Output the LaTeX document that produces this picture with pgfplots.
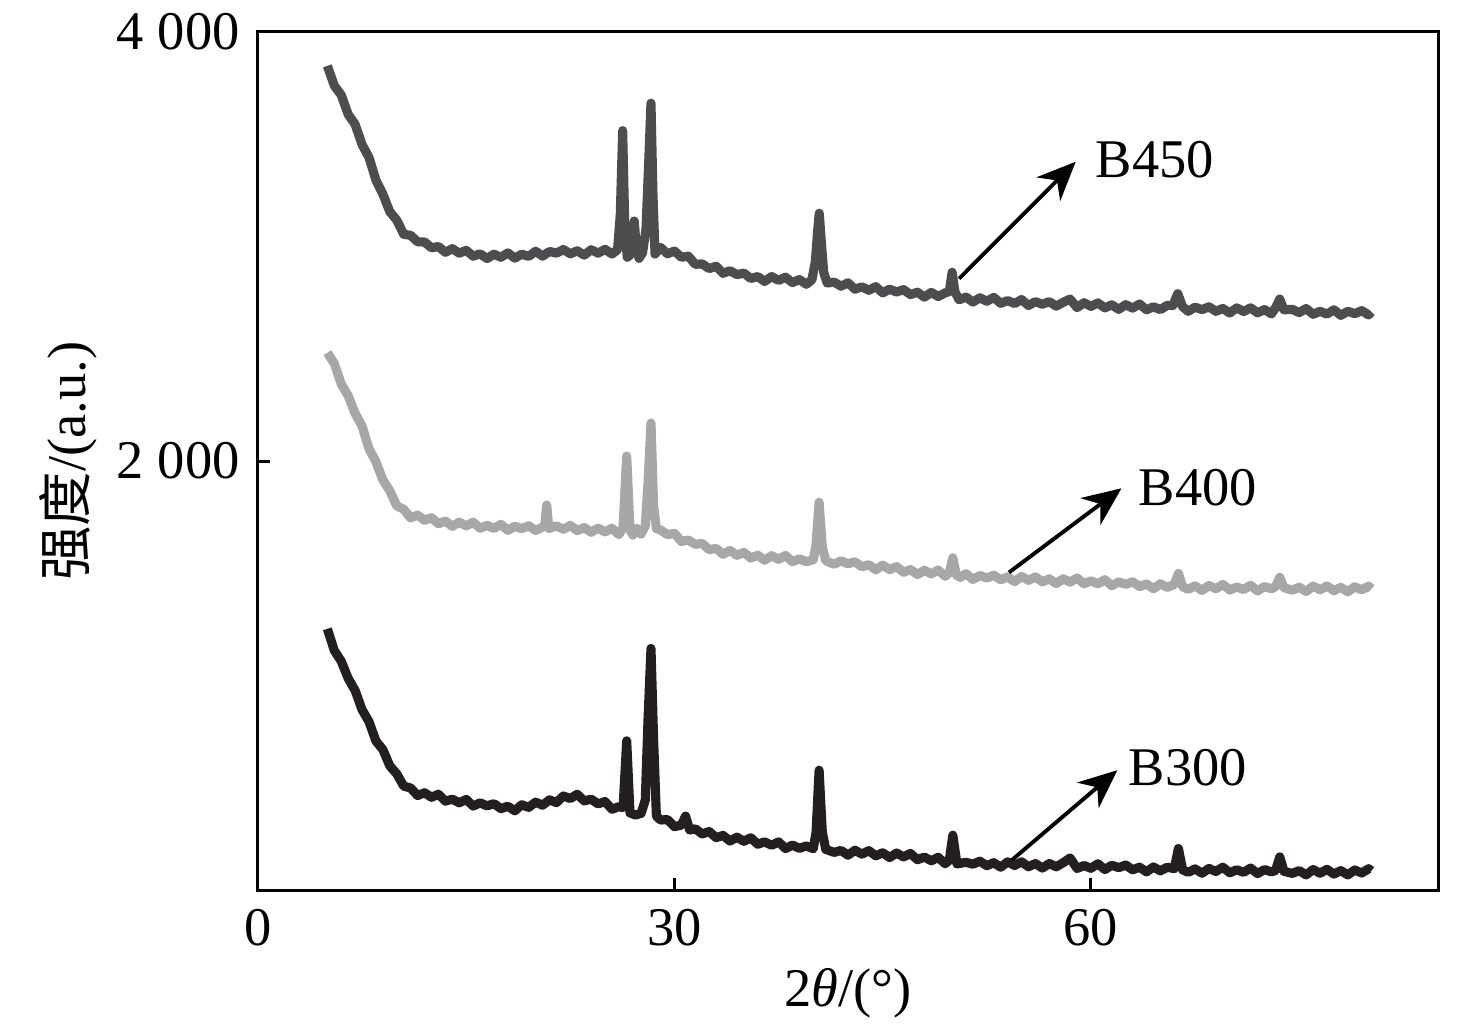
\documentclass[border=0pt]{standalone}
\usepackage{pgfplots}
\pgfplotsset{compat=1.18}
\usepackage{fontspec}
\setmainfont{Liberation Serif}
\newfontfamily\cjk{Noto Sans CJK SC}
\usetikzlibrary{arrows.meta}
\definecolor{cA}{HTML}{4D4D4F}
\definecolor{cB}{HTML}{A7A7A7}
\definecolor{cC}{HTML}{231F20}
\newcommand\fs{\fontsize{15.5}{18}\selectfont}
\tikzset{lab arrow/.style={-{Stealth[length=11pt,width=9.5pt,inset=3.5pt]}, line width=1.1pt, black}}
\begin{document}
\begin{tikzpicture}
\path[use as bounding box] (-73.4pt,-39.8pt) rectangle (346.6pt,253.3pt);
\begin{axis}[at={(0,0)}, anchor=south west, scale only axis,
  width=335.8pt, height=244.2pt,
  xmin=0, xmax=85, ymin=0, ymax=4000,
  xtick={0,30,60}, ytick={2000,4000},
  xtick pos=lower, ytick pos=left,
  tick align=inside, major tick length=3.5pt,
  axis line style={line width=0.85pt, black},
  every tick/.style={line width=0.85pt, black},
  tick label style={font=\fs},
  xticklabel style={yshift=-2pt},
  yticklabel style={xshift=-1.7pt},
  /pgf/number format/assume math mode=true,
  /pgf/number format/1000 sep={\hspace{0.25em}},
  xlabel={2\textit{θ}/(°)},
  ylabel={{\cjk 强度}/(a.u.)},
  label style={font=\fs},
  xlabel style={at={(axis description cs:0.5,-0.12)}, anchor=center},
  ylabel style={at={(axis description cs:-0.1608,0.5)}, anchor=center},
  every axis plot/.append style={line width=2.6pt, line join=round, no marks},
  clip=false,
]
% B450
\addplot[cA] coordinates {
(5.0,3842)(5.5,3750)(6.0,3706)(6.5,3616)(7.0,3569)(7.5,3475)(8.0,3415)(8.5,3309)(9.0,3244)(9.5,3162)
(10.0,3123)(10.5,3057)(11.0,3052)(11.5,3022)(12.0,3021)(12.5,2994)(13.0,3000)(13.5,2973)(14.0,2990)(14.5,2969)
(15.0,2982)(15.5,2955)(16.0,2966)(16.5,2944)(17.0,2964)(17.5,2950)(18.0,2970)(18.5,2946)(19.0,2964)(19.5,2954)
(20.0,2978)(20.5,2955)(21.0,2977)(21.5,2969)(22.0,2986)(22.5,2966)(23.0,2980)(23.5,2960)(24.0,2985)(24.5,2969)
(25.0,2987)(25.5,2965)(25.9,2985)(26.1,3150)(26.27,3540)(26.42,3100)(26.6,2950)(26.8,2960)(26.95,3030)(27.1,3119)
(27.25,3000)(27.45,2945)(27.7,2970)(27.95,3080)(28.15,3400)(28.31,3668)(28.45,3250)(28.6,2965)
(29.0,2996)(29.5,2966)(30.0,2979)(30.5,2950)(31.0,2955)(31.5,2917)(32.0,2919)(32.5,2897)(33.0,2908)(33.5,2875)
(34.0,2887)(34.5,2869)(35.0,2876)(35.5,2851)(36.0,2860)(36.5,2837)(37.0,2860)(37.5,2842)(38.0,2857)(38.5,2832)
(39.0,2846)(39.5,2824)(39.9,2845)(40.15,2930)(40.3,3060)(40.43,3155)(40.58,3020)(40.75,2880)(41.0,2830)
(41.5,2834)(42.0,2815)(42.5,2831)(43.0,2801)(43.5,2812)(44.0,2796)(44.5,2813)(45.0,2784)(45.5,2801)(46.0,2788)
(46.5,2799)(47.0,2776)(47.5,2787)(48.0,2764)(48.5,2786)(49.0,2767)(49.5,2784)(49.8,2790)(50.0,2880)(50.2,2790)
(50.5,2752)(51.0,2764)(51.5,2741)(52.0,2761)(52.5,2745)(53.0,2763)(53.5,2735)(54.0,2748)(54.5,2734)(55.0,2753)
(55.5,2725)(56.0,2743)(56.5,2731)(57.0,2743)(57.5,2722)(58.0,2740)(58.5,2755)(59.0,2715)(59.5,2738)(60.0,2721)
(60.5,2737)(61.0,2714)(61.5,2728)(62.0,2707)(62.5,2729)(63.0,2713)(63.5,2732)(64.0,2705)(64.5,2719)(65.0,2706)
(65.5,2726)(65.9,2725)(66.25,2780)(66.6,2720)(67.0,2698)(67.5,2717)(68.0,2706)(68.5,2719)(69.0,2698)(69.5,2711)
(70.0,2690)(70.5,2714)(71.0,2697)(71.5,2714)(72.0,2691)(72.5,2706)(73.0,2686)(73.3,2715)(73.6,2755)(73.9,2705)
(74.5,2707)(75.0,2692)(75.5,2711)(76.0,2684)(76.5,2698)(77.0,2685)(77.5,2705)(78.0,2679)(78.5,2698)(79.0,2687)
(79.5,2701)(80.0,2681)(80.2,2695)
};
% B400
\addplot[cB] coordinates {
(5.0,2505)(5.5,2455)(6.0,2359)(6.5,2304)(7.0,2222)(7.5,2163)(8.0,2057)(8.5,1997)(9.0,1912)(9.5,1861)
(10.0,1791)(10.5,1775)(11.0,1735)(11.5,1748)(12.0,1724)(12.5,1736)(13.0,1708)(13.5,1720)(14.0,1696)(14.5,1715)
(15.0,1698)(15.5,1715)(16.0,1687)(16.5,1700)(17.0,1686)(17.5,1705)(18.0,1677)(18.5,1696)(19.0,1685)(19.5,1698)
(20.0,1677)(20.5,1692)(20.65,1695)(20.8,1795)(20.95,1685)(21.5,1698)(22.0,1682)(22.5,1700)(23.0,1676)(23.5,1690)
(24.0,1668)(24.5,1687)(25.0,1670)(25.5,1687)(26.0,1657)(26.3,1690)(26.56,2023)(26.8,1680)(27.0,1655)(27.3,1685)
(27.6,1660)(27.9,1700)(28.1,1900)(28.31,2177)(28.5,1790)(28.7,1685)
(29.0,1679)(29.5,1657)(30.0,1663)(30.5,1625)(31.0,1632)(31.5,1612)(32.0,1616)(32.5,1587)(33.0,1593)(33.5,1565)
(34.0,1583)(34.5,1561)(35.0,1574)(35.5,1548)(36.0,1561)(36.5,1538)(37.0,1559)(37.5,1542)(38.0,1560)(38.5,1531)
(39.0,1544)(39.5,1531)(40.0,1540)(40.2,1610)(40.42,1808)(40.65,1600)(40.9,1535)
(41.5,1519)(42.0,1535)(42.5,1521)(43.0,1531)(43.5,1507)(44.0,1517)(44.5,1493)(45.0,1515)(45.5,1494)(46.0,1508)
(46.5,1482)(47.0,1494)(47.5,1471)(48.0,1491)(48.5,1474)(49.0,1492)(49.5,1463)(49.8,1480)(50.05,1549)(50.3,1468)
(50.6,1458)(51.0,1475)(51.5,1448)(52.0,1467)(52.5,1455)(53.0,1468)(53.5,1447)(54.0,1460)(54.5,1438)(55.0,1462)
(55.5,1444)(56.0,1460)(56.5,1437)(57.0,1451)(57.5,1429)(58.0,1451)(58.5,1436)(59.0,1455)(59.5,1428)(60.0,1442)
(60.5,1428)(61.0,1447)(61.5,1419)(62.0,1437)(62.5,1425)(63.0,1437)(63.5,1415)(64.0,1427)(64.5,1405)(65.0,1428)
(65.5,1411)(66.0,1425)(66.3,1476)(66.6,1415)(67.0,1402)(67.5,1418)(68.0,1397)(68.5,1420)(69.0,1405)(69.5,1425)
(70.0,1399)(70.5,1413)(71.0,1401)(71.5,1421)(72.0,1395)(72.5,1415)(73.0,1405)(73.3,1415)(73.6,1458)(73.9,1410)
(74.5,1398)(75.0,1412)(75.5,1392)(76.0,1417)(76.5,1400)(77.0,1418)(77.5,1396)(78.0,1411)(78.5,1391)(79.0,1414)
(79.5,1400)(80.0,1417)(80.2,1405)
};
% B300
\addplot[cC] coordinates {
(5.0,1218)(5.5,1117)(6.0,1067)(6.5,987)(7.0,931)(7.5,841)(8.0,785)(8.5,695)(9.0,655)(9.5,579)
(10.0,542)(10.5,485)(11.0,476)(11.5,441)(12.0,454)(12.5,433)(13.0,447)(13.5,415)(14.0,424)(14.5,407)
(15.0,423)(15.5,392)(16.0,407)(16.5,393)(17.0,403)(17.5,380)(18.0,391)(18.5,370)(19.0,398)(19.5,386)
(20.0,410)(20.5,396)(21.0,421)(21.5,408)(22.0,439)(22.5,427)(23.0,447)(23.5,416)(24.0,424)(24.5,402)
(25.0,413)(25.5,377)(26.0,389)(26.3,385)(26.56,696)(26.8,360)(27.2,350)(27.6,358)(27.9,420)(28.1,800)
(28.31,1127)(28.5,700)(28.7,345)
(29.0,327)(29.5,329)(30.0,296)(30.5,303)(30.8,345)(31.1,280)(31.5,286)(32.0,262)(32.5,273)(33.0,245)
(33.5,255)(34.0,229)(34.5,247)(35.0,228)(35.5,244)(36.0,214)(36.5,225)(37.0,209)(37.5,225)(38.0,194)
(38.5,210)(39.0,195)(39.5,206)(40.0,193)(40.2,270)(40.42,559)(40.65,270)(40.9,190)
(41.5,176)(42.0,185)(42.5,163)(43.0,186)(43.5,168)(44.0,184)(44.5,160)(45.0,174)(45.5,152)(46.0,173)
(46.5,155)(47.0,171)(47.5,142)(48.0,154)(48.5,137)(49.0,153)(49.5,123)(49.8,140)(50.05,256)(50.35,122)
(51.0,130)(51.5,121)(52.0,135)(52.5,114)(53.0,128)(53.5,107)(54.0,132)(54.5,115)(55.0,132)(55.5,109)
(56.0,124)(56.5,103)(57.0,124)(57.5,109)(58.0,128)(58.5,150)(59.0,101)(59.5,115)(60.0,102)(60.5,123)
(61.0,96)(61.5,116)(62.0,105)(62.5,117)(63.0,95)(63.5,107)(64.0,85)(64.5,108)(65.0,90)(65.5,107)
(66.0,100)(66.3,194)(66.6,95)(67.0,83)(67.5,99)(68.0,79)(68.5,101)(69.0,87)(69.5,107)(70.0,81)
(70.5,95)(71.0,83)(71.5,103)(72.0,77)(72.5,96)(73.0,85)(73.3,92)(73.6,155)(73.9,88)(74.5,78)
(75.0,91)(75.5,71)(76.0,96)(76.5,79)(77.0,97)(77.5,75)(78.0,91)(78.5,71)(79.0,94)(79.5,80)
(80.0,100)(80.2,90)
};
\draw[lab arrow] (axis cs:50.5,2850) -- (axis cs:58.9,3395);
\draw[lab arrow] (axis cs:54.1,1481) -- (axis cs:62.2,1873);
\draw[lab arrow] (axis cs:54.3,140) -- (axis cs:61.9,559);
\node[anchor=west, inner sep=0pt, font=\fs] at (axis cs:60.29,3403) {B450};
\node[anchor=west, inner sep=0pt, font=\fs] at (axis cs:63.39,1874) {B400};
\node[anchor=west, inner sep=0pt, font=\fs] at (axis cs:62.67,569) {B300};
\end{axis}
\end{tikzpicture}
\end{document}
